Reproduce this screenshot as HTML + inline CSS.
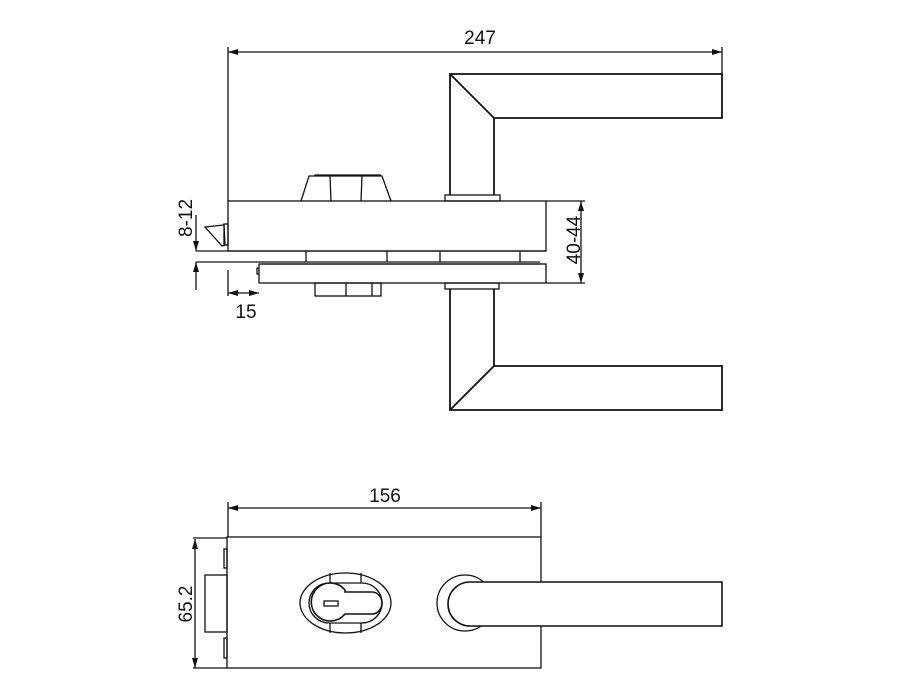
<!DOCTYPE html>
<html><head><style>body{margin:0;background:#fff}svg{display:block}text{font-family:"Liberation Sans",sans-serif;font-size:19px;fill:#111}</style></head>
<body>
<svg width="900" height="700" viewBox="0 0 900 700" xmlns="http://www.w3.org/2000/svg">
<defs><marker id="a" markerWidth="10" markerHeight="6" refX="10" refY="3" orient="auto-start-reverse" markerUnits="userSpaceOnUse"><path d="M0,0 L10,3 L0,6z" fill="#111"/></marker></defs>
<g stroke="#111" stroke-width="1.3" fill="none">
<!-- 247 -->
<line x1="228" y1="52" x2="722" y2="52" marker-start="url(#a)" marker-end="url(#a)"/>
<line x1="228" y1="47" x2="228" y2="201"/>
<line x1="722" y1="47" x2="722" y2="74"/>
<!-- top handle -->
<path d="M450,195 L450,74 L722,74 L722,118 L494,118 L494,195 M450,74 L494,118" stroke-width="1.8"/>
<rect x="445" y="195" width="55" height="6"/>
<!-- body -->
<rect x="228" y="201" width="318" height="50"/>
<path d="M301,201 L309,176 L382,176 L391,201 M315,176 L315,175 L381,175 M330,176 L331,201 M362,176 L361,201"/>
<line x1="196" y1="251" x2="546" y2="251"/>
<line x1="196" y1="262" x2="540" y2="262"/>
<path d="M306,251 V262 M387,251 V262 M440,251 V262 M520,251 V262"/>
<rect x="259" y="264" width="287" height="19"/>
<line x1="262" y1="264" x2="542" y2="264"/>
<path d="M259,268 h-2 v6 h2"/>
<rect x="315" y="283" width="66" height="13"/>
<path d="M346,283 V296 M372,283 V296"/>
<rect x="445" y="283" width="54" height="6"/>
<path d="M450,289 L450,410 L722,410 L722,366 L494,366 L494,289 M494,366 L450,410" stroke-width="1.8"/>
<!-- latch -->
<path d="M205,227 L224,225 L225,245 L222,246 Z"/>
<rect x="224" y="224" width="4" height="21"/>
<!-- 8-12 -->
<line x1="196" y1="215" x2="196" y2="251" marker-end="url(#a)"/>
<line x1="196" y1="262" x2="196" y2="290" marker-start="url(#a)"/>
<!-- 15 -->
<line x1="228" y1="270" x2="228" y2="296"/>
<line x1="228" y1="293" x2="259" y2="293" marker-start="url(#a)" marker-end="url(#a)"/>
<!-- 40-44 -->
<line x1="546" y1="201" x2="585" y2="201"/>
<line x1="546" y1="283" x2="585" y2="283"/>
<line x1="581" y1="201" x2="581" y2="283" marker-start="url(#a)" marker-end="url(#a)"/>
<!-- bottom view -->
<line x1="228" y1="508" x2="541" y2="508" marker-start="url(#a)" marker-end="url(#a)"/>
<line x1="228" y1="502" x2="228" y2="537"/>
<line x1="541" y1="502" x2="541" y2="537"/>
<rect x="227" y="537" width="314" height="131"/>
<rect x="205" y="575" width="22" height="57"/>
<rect x="224" y="549" width="3" height="19"/>
<rect x="224" y="638" width="3" height="20"/>
<line x1="193" y1="538" x2="227" y2="538"/>
<line x1="193" y1="668" x2="227" y2="668"/>
<line x1="195" y1="539" x2="195" y2="668" marker-start="url(#a)" marker-end="url(#a)"/>
<ellipse cx="345.5" cy="603" rx="45.5" ry="30"/>
<rect x="309" y="583" width="73" height="40" rx="20"/>
<path d="M330,573 V583 M361,573 V583 M330,623 V633 M361,623 V633"/>
<path d="M345,590 A19,19 0 1 0 345,614 L372,614 A10,11 0 0 0 372,592 L345,592 Z" stroke-width="1.6"/>
<rect x="324" y="601" width="14" height="5"/>
<circle cx="465" cy="603" r="28"/>
<path d="M722,582 L470,582 A22,22 0 0 0 470,626 L722,626 Z" fill="#fff" stroke-width="1.6"/>
</g>
<text x="480" y="44" text-anchor="middle">247</text>
<text x="246" y="318" text-anchor="middle">15</text>
<text x="385" y="502" text-anchor="middle">156</text>
<text transform="translate(192,218) rotate(-90)" text-anchor="middle">8-12</text>
<text transform="translate(580,240) rotate(-90)" text-anchor="middle">40-44</text>
<text transform="translate(192,604) rotate(-90)" text-anchor="middle">65.2</text>
</svg>
</body></html>
